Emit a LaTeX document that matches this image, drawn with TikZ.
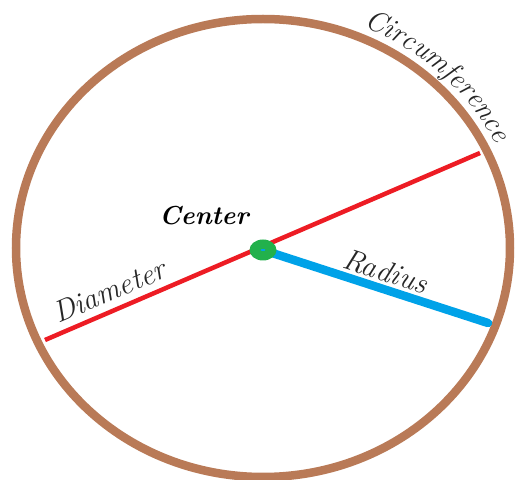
\documentclass[tikz,border=0pt]{standalone}
\usetikzlibrary{shapes.geometric,decorations.text}
\definecolor{rim}{RGB}{185,122,87}
\definecolor{diam}{RGB}{237,28,36}
\definecolor{rad}{RGB}{0,162,232}
\definecolor{mid}{RGB}{34,177,76}
\begin{document}
\begin{tikzpicture}
[x=1pt, y=1pt, word/.style={font=\fontsize{30}{32}\selectfont\itshape, text=black!85},
dot/.style={ellipse, fill=mid, minimum width=27pt, minimum height=21pt, inner sep=0pt}]
\useasboundingbox (0,0) rectangle (515,480);
\coordinate (o) at (263,232);
\coordinate (m) at (263,230);
\coordinate (d1) at (45,140);
\coordinate (d2) at (480,327);
\coordinate (r) at (488,157);

\draw[rim, line width=8.5pt] (o) ellipse [x radius=247pt, y radius=229pt];
\draw[diam, line width=4.5pt] (d1) -- node[word, sloped, above, pos=0.165, inner sep=7pt] (dl) {Diameter} (d2);
\draw[rad, line width=8.5pt, line cap=round] (m) -- node[word, sloped, above, pos=0.52, inner sep=2.5pt] (rl) {Radius} (r);
\node[dot] (c) at (m) {};
\node[ellipse, fill=rad, minimum width=5pt, minimum height=2pt, inner sep=0pt] (cc) at (c) {};
\node[word, font=\fontsize{26}{30}\selectfont\bfseries\itshape, text=black] (cl) at (204,264) {Center};

\path[decorate, decoration={text along path, text align=center, text color=black!85,
  text={|\fontsize{29}{30}\selectfont\itshape|Circumference}}]
  (o) ++(80:258pt and 240pt) arc [start angle=80, end angle=12, x radius=258pt, y radius=240pt];
\end{tikzpicture}
\end{document}
